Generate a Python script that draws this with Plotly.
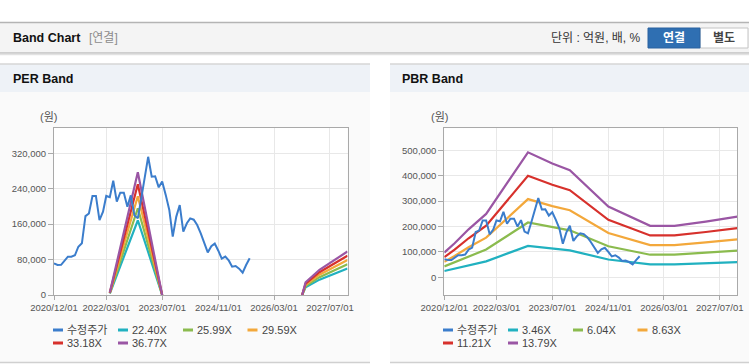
import plotly.graph_objects as go
import pandas as pd

W, H = 749, 364

# ---------------- data ----------------
x_tick_dates = ["2020-12-01", "2022-03-01", "2023-07-01", "2024-11-01", "2026-03-01", "2027-07-01"]
x_range = ["2020-12-01", "2027-12-01"]

price_name = "수정주가"
price_values = [71500, 67700, 68000, 78000, 86600, 86600, 89600, 109000, 116700, 178000,
                184000, 223600, 223600, 169000, 188000, 223600, 220600, 258000, 210800, 231000,
                231000, 199500, 225000, 180000, 173000, 220000, 265000, 312000, 267000, 268000,
                243000, 256000, 226000, 192000, 131800, 177000, 203000, 143000, 162000, 173000,
                170000, 158000, 139000, 118000, 96000, 110000, 116000, 100000, 82000, 86600,
                77500, 64000, 65500, 59500, 50400, 67800, 82800]
price_dates = pd.date_range("2020-12-01", periods=len(price_values), freq="MS")

per_dates = ["2022-04-01", "2022-12-01", "2023-07-01", "2025-01-01",
             "2026-11-01", "2026-12-01", "2027-04-01", "2027-08-01", "2027-12-01"]
per_names = ["22.40X", "25.99X", "29.59X", "33.18X", "36.77X"]
per_2240 = [3400, 168700, 0, None, 0, 17500, 34700, 47500, 59800]
per_2599 = [3900, 195800, 0, None, 0, 20300, 40300, 55100, 69400]
per_2959 = [4400, 222900, 0, None, 0, 23100, 45900, 62700, 79000]
per_3318 = [5000, 250000, 0, None, 0, 25900, 51400, 70300, 88600]
per_3677 = [5500, 277000, 0, None, 0, 28700, 57000, 78000, 98200]

pbr_dates = ["2020-12-01", "2021-03-01", "2021-07-01", "2021-12-01", "2022-12-01", "2023-07-01",
             "2023-12-01", "2024-11-01", "2025-11-01", "2026-06-01", "2027-03-01", "2027-12-01"]
pbr_names = ["3.46X", "6.04X", "8.63X", "11.21X", "13.79X"]
pbr_346 = [24400, 33600, 47400, 62600, 123500, 112500, 105900, 69900, 50900, 50900, 55000, 59900]
pbr_604 = [42600, 58600, 82700, 109300, 215600, 196300, 184800, 122000, 88800, 88800, 96000, 104500]
pbr_863 = [60800, 83700, 118200, 156200, 308100, 280500, 264100, 174300, 126900, 126900, 137200, 149300]
pbr_1121 = [79000, 108700, 153600, 202900, 400200, 364300, 343000, 226400, 164800, 164800, 178200, 193900]
pbr_1379 = [97200, 133800, 188900, 249600, 492300, 448200, 422000, 278600, 202700, 202700, 219300, 238600]

per_ticks = [0, 80000, 160000, 240000, 320000]
pbr_ticks = [0, 100000, 200000, 300000, 400000, 500000]
per_range = [0, 377000]
pbr_range = [-70000, 587000]

band_colors = ["#21b1c0", "#8bbb4e", "#f3a83b", "#d7312c", "#9a56a4"]
price_color = "#3b7dcc"

FONT = "Liberation Sans, Arial, Noto Sans CJK KR, sans-serif"

# ---------------- figure ----------------
fig = go.Figure()

per_series = [per_2240, per_2599, per_2959, per_3318, per_3677]
pbr_series = [pbr_346, pbr_604, pbr_863, pbr_1121, pbr_1379]

for name, vals, col in zip(per_names, per_series, band_colors):
    fig.add_trace(go.Scatter(x=per_dates, y=vals, name=name, mode="lines",
                             line=dict(color=col, width=2.2), connectgaps=False,
                             showlegend=False, xaxis="x", yaxis="y"))
fig.add_trace(go.Scatter(x=price_dates, y=price_values, name=price_name, mode="lines",
                         line=dict(color=price_color, width=2), showlegend=False,
                         xaxis="x", yaxis="y"))

for name, vals, col in zip(pbr_names, pbr_series, band_colors):
    fig.add_trace(go.Scatter(x=pbr_dates, y=vals, name=name, mode="lines",
                             line=dict(color=col, width=2.2),
                             showlegend=False, xaxis="x2", yaxis="y2"))
fig.add_trace(go.Scatter(x=price_dates, y=price_values, name=price_name, mode="lines",
                         line=dict(color=price_color, width=2), showlegend=False,
                         xaxis="x2", yaxis="y2"))


def px(x):
    return x / W


def py(y):
    return 1 - y / H


def rect(x0, y0, x1, y1, fill, line_color=None, line_width=0, layer="below"):
    return dict(type="rect", xref="paper", yref="paper",
                x0=px(x0), x1=px(x1), y0=py(y1), y1=py(y0),
                fillcolor=fill, layer=layer,
                line=dict(width=line_width, color=line_color or fill))


def hline(x0, x1, y, color, width=1, layer="below"):
    return dict(type="line", xref="paper", yref="paper",
                x0=px(x0), x1=px(x1), y0=py(y), y1=py(y),
                line=dict(color=color, width=width), layer=layer)


shapes = []
# header band
shapes.append(rect(0, 22, W, 53, "#f4f4f4"))
shapes.append(hline(0, W, 22.5, "#b4b4b4", 1.5))
shapes.append(hline(0, W, 53, "#c2c2c2", 1.5))
shapes.append(hline(0, W, 54.5, "#e2e2e2", 1.5))

# panels
plot_boxes = [(54, 128, 347.5, 295), (444.3, 128.3, 737.3, 295)]
for (x0, x1) in [(0, 370), (390, W)]:
    shapes.append(rect(x0, 64, x1, 92, "#eef2f7"))
    shapes.append(rect(x0, 92, x1, 362, "#fafafa"))
    shapes.append(hline(x0, x1, 64, "#d6d6d6", 1.5))
    shapes.append(hline(x0, x1, 362.5, "#d0d0d0", 1.5))
for (x0, y0, x1, y1) in plot_boxes:
    shapes.append(rect(x0, y0, x1, y1, "#ffffff"))

# unit buttons
shapes.append(rect(700, 28, 748, 48, "#ffffff", "#c4c4c4", 1, layer="above"))
shapes.append(rect(648, 28, 700, 48, "#2f6fb2", "#2a63a0", 1, layer="above"))

annotations = []


def text(x, y, s, size=12, color="#222", anchor="left", bold=False, family=FONT):
    if bold:
        s = "<b>" + s + "</b>"
    annotations.append(dict(x=px(x), y=py(y), xref="paper", yref="paper", text=s,
                            showarrow=False, xanchor=anchor, yanchor="middle",
                            font=dict(size=size, color=color, family=family)))


text(11, 38, "Band Chart", 12.5, "#111", bold=True)
text(87, 38, "[연결]", 12, "#8c8c8c")
text(643, 38, "단위 : 억원, 배, %", 12, "#333", anchor="right")
text(674, 38, "연결", 12, "#ffffff", anchor="center", bold=True)
text(724, 38, "별도", 12, "#444444", anchor="center", bold=True)
text(11, 79, "PER Band", 12.5, "#111", bold=True)
text(400, 79, "PBR Band", 12.5, "#111", bold=True)
text(49, 117, "(원)", 11, "#555", anchor="center")
text(439, 117, "(원)", 11, "#555", anchor="center")

# legends (one per panel)
legend_slots = [(53, 330), (118, 330), (183, 330), (247.5, 330), (53, 343), (118, 343)]
for ox, names in [(0, [price_name] + per_names), (390, [price_name] + pbr_names)]:
    cols = [price_color] + band_colors
    for (lx, ly), nm, col in zip(legend_slots, names, cols):
        shapes.append(hline(ox + lx, ox + lx + 10, ly, col, 3, layer="above"))
        text(ox + lx + 12, ly, nm, 11, "#444")

axis_common = dict(showline=True, linecolor="#a9a9a9", linewidth=1, mirror=True,
                   showgrid=True, gridcolor="#e8e8e8", gridwidth=1, zeroline=False,
                   ticks="outside", tickcolor="#a9a9a9", ticklen=4, automargin=False,
                   tickfont=dict(size=9.5, color="#555", family=FONT))

xcommon = dict(axis_common, type="date", range=x_range, tickvals=x_tick_dates,
               tickformat="%Y/%m/%d")

fig.update_layout(
    width=W, height=H, autosize=False,
    margin=dict(l=0, r=0, t=0, b=0, pad=0),
    paper_bgcolor="#ffffff", plot_bgcolor="rgba(0,0,0,0)",
    font=dict(family=FONT),
    showlegend=False,
    xaxis=dict(xcommon, domain=[px(54), px(347.5)], anchor="y"),
    yaxis=dict(axis_common, domain=[py(295), py(128)], anchor="x", range=per_range,
               tickvals=per_ticks, tickformat=",", ticklen=5),
    xaxis2=dict(xcommon, domain=[px(444.3), px(737.3)], anchor="y2"),
    yaxis2=dict(axis_common, domain=[py(295), py(128.3)], anchor="x2", range=pbr_range,
                tickvals=pbr_ticks, tickformat=",", ticklen=5),
    shapes=shapes,
    annotations=annotations,
    hovermode="x",
)

fig.write_html("out.html", config={"displayModeBar": False},
               post_script="document.body.style.margin='0';document.body.style.overflow='hidden';")
